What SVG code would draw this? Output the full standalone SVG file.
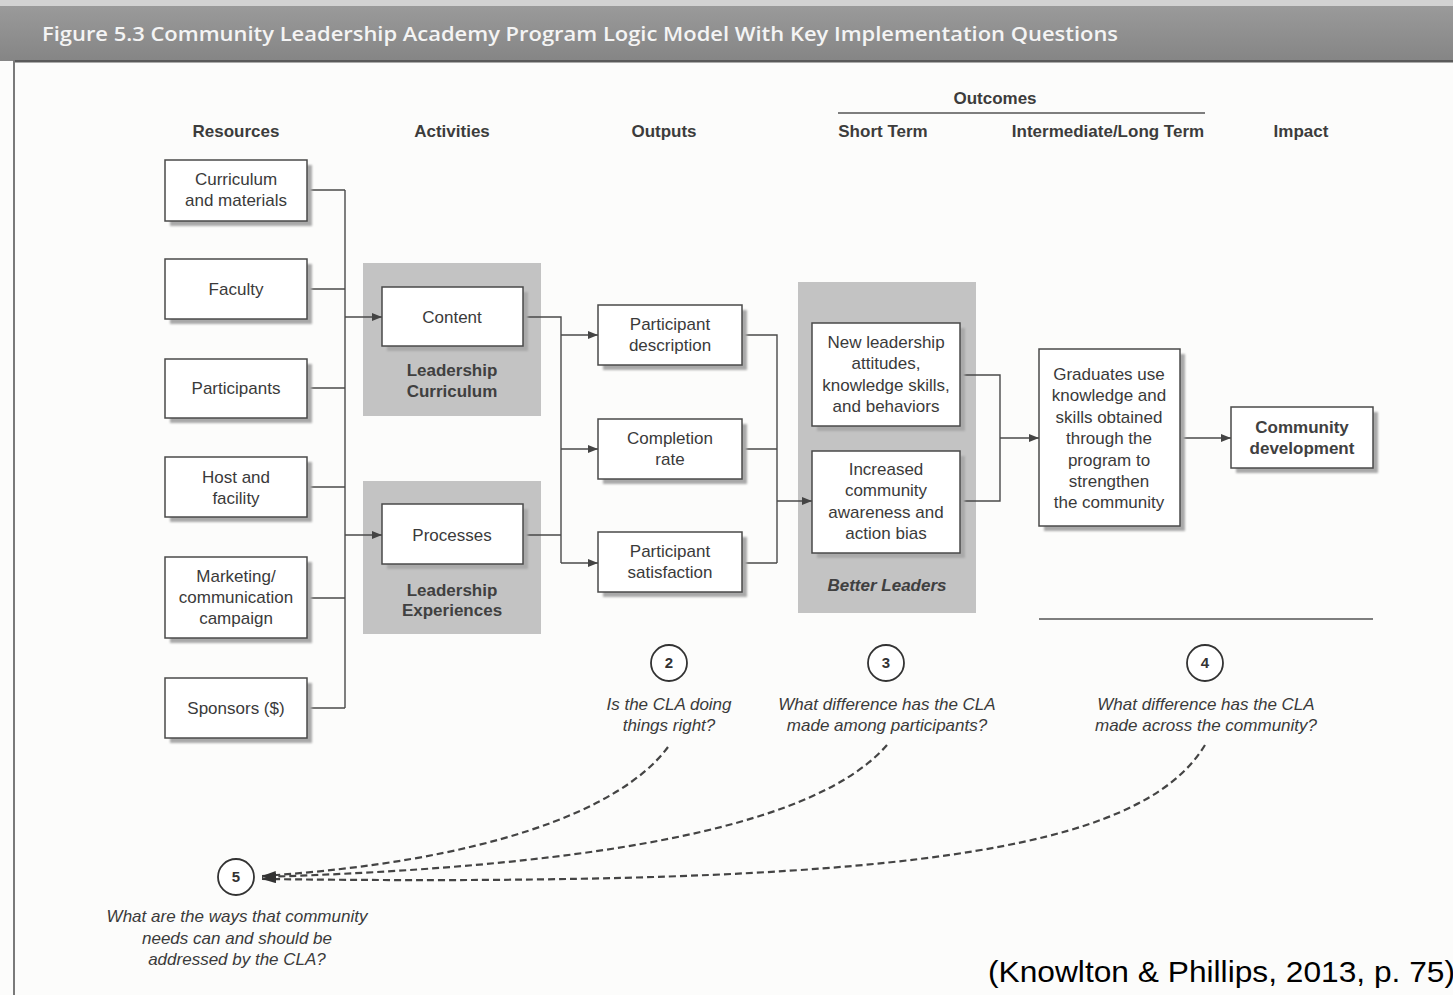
<svg xmlns="http://www.w3.org/2000/svg" width="1453" height="995" viewBox="0 0 1453 995">
  <style>
    .bg { fill: #fcfcfb; }
    .box { fill: #ffffff; stroke: #4a4a4a; stroke-width: 1.5; }
    .sh { fill: #a9a9a9; filter: url(#soft); }
    .panel { fill: #c3c3c3; }
    .t { font-family: "Liberation Sans", Arial, sans-serif; font-size: 17px; fill: #3a3a3a; text-anchor: middle; }
    .b { font-weight: bold; fill: #404040; }
    .hd { font-family: "Liberation Sans", Arial, sans-serif; font-size: 17px; font-weight: bold; fill: #3c3c3c; text-anchor: middle; }
    .q { font-family: "Liberation Sans", Arial, sans-serif; font-size: 17px; font-style: italic; fill: #3a3a3a; text-anchor: middle; }
    .num { font-family: "Liberation Sans", Arial, sans-serif; font-size: 15px; font-weight: bold; fill: #333; text-anchor: middle; }
    .ring { fill: #ffffff; stroke: #333; stroke-width: 1.8; }
    .wire { fill: none; stroke: #4a4a4a; stroke-width: 1.4; }
    .dash { fill: none; stroke: #444; stroke-width: 2.2; stroke-dasharray: 7 4; }
    .rule { stroke: #555; stroke-width: 1.4; }
  </style>
  <defs>
    <filter id="soft" x="-10%" y="-10%" width="120%" height="120%">
      <feGaussianBlur stdDeviation="1.2"/>
    </filter>
    <linearGradient id="bar" x1="0" y1="0" x2="0" y2="1">
      <stop offset="0" stop-color="#9a9a9a"/>
      <stop offset="1" stop-color="#858585"/>
    </linearGradient>
    <marker id="arr" viewBox="0 0 10 8" refX="10" refY="4" markerWidth="10" markerHeight="8" markerUnits="userSpaceOnUse" orient="auto">
      <path d="M0,0 L10,4 L0,8 Z" fill="#444"/>
    </marker>
    <marker id="arrL" viewBox="0 0 14 8" refX="14" refY="4" markerWidth="14" markerHeight="8" markerUnits="userSpaceOnUse" orient="auto">
      <path d="M0,0 L14,4 L0,8 Z" fill="#333"/>
    </marker>
  </defs>

  <!-- page -->
  <rect class="bg" x="0" y="0" width="1453" height="995"/>
  <rect x="0" y="0" width="1453" height="6" fill="#d2d2d2"/>
  <rect x="0" y="6" width="1453" height="55" fill="url(#bar)"/>
  <rect x="14" y="60" width="1439" height="2.5" fill="#5a5a5a"/>
  <rect x="13" y="60" width="2" height="935" fill="#7a7a7a"/>
  <text x="42" y="41" font-family="'Open Sans', 'Liberation Sans', sans-serif" font-size="20" font-weight="600" fill="#f4f4f4" textLength="1076" lengthAdjust="spacingAndGlyphs">Figure 5.3  Community Leadership Academy Program Logic Model With Key Implementation Questions</text>

  <!-- column headers -->
  <g id="headers">
    <text class="hd" x="236" y="137">Resources</text>
    <text class="hd" x="452" y="137">Activities</text>
    <text class="hd" x="664" y="137">Outputs</text>
    <text class="hd" x="995" y="104">Outcomes</text>
    <line class="rule" x1="838" y1="113" x2="1205" y2="113"/>
    <text class="hd" x="883" y="137">Short Term</text>
    <text class="hd" x="1108" y="137">Intermediate/Long Term</text>
    <text class="hd" x="1301" y="137">Impact</text>
  </g>

  <!-- gray grouping panels -->
  <g id="panel-curriculum">
    <rect class="panel" x="363" y="263" width="178" height="153"/>
    <text class="t b" x="452" y="376">Leadership</text>
    <text class="t b" x="452" y="397">Curriculum</text>
  </g>
  <g id="panel-experiences">
    <rect class="panel" x="363" y="481" width="178" height="153"/>
    <text class="t b" x="452" y="596">Leadership</text>
    <text class="t b" x="452" y="616">Experiences</text>
  </g>
  <g id="panel-better-leaders">
    <rect class="panel" x="798" y="282" width="178" height="331"/>
    <text class="t b" x="887" y="591" font-style="italic">Better Leaders</text>
  </g>

  <!-- connectors -->
  <g id="connectors">
    <!-- resources bus -->
    <path class="wire" d="M307,190 H345 M307,289 H345 M307,388 H345 M307,487 H345 M307,598 H345 M307,708 H345 M345,190 V708"/>
    <path class="wire" d="M345,317 H382" marker-end="url(#arr)"/>
    <path class="wire" d="M345,535 H382" marker-end="url(#arr)"/>
    <!-- activities bus -->
    <path class="wire" d="M523,317 H561 V563 M523,535 H561"/>
    <path class="wire" d="M561,335 H598" marker-end="url(#arr)"/>
    <path class="wire" d="M561,449 H598" marker-end="url(#arr)"/>
    <path class="wire" d="M561,563 H598" marker-end="url(#arr)"/>
    <!-- outputs bus -->
    <path class="wire" d="M742,335 H777 V563 M742,449 H777 M742,563 H777"/>
    <path class="wire" d="M777,501 H812" marker-end="url(#arr)"/>
    <!-- short term bus -->
    <path class="wire" d="M960,375 H1000 V501 H960"/>
    <path class="wire" d="M1000,438 H1039" marker-end="url(#arr)"/>
    <path class="wire" d="M1180,438 H1231" marker-end="url(#arr)"/>
    <!-- question links -->
    <path class="dash" d="M668,747 C620,812 480,862 262,876" marker-end="url(#arrL)"/>
    <path class="dash" d="M887,745 C820,822 620,866 262,877" marker-end="url(#arrL)"/>
    <path class="dash" d="M1205,745 C1140,852 900,887 262,879" marker-end="url(#arrL)"/>
  </g>

  <!-- resources -->
  <g id="res-curriculum">
    <rect class="sh" x="170" y="165" width="142" height="61"/>
    <rect class="box" x="165" y="160" width="142" height="61"/>
    <text class="t" x="236" y="185">Curriculum</text>
    <text class="t" x="236" y="206">and materials</text>
  </g>
  <g id="res-faculty">
    <rect class="sh" x="170" y="264" width="142" height="60"/>
    <rect class="box" x="165" y="259" width="142" height="60"/>
    <text class="t" x="236" y="295">Faculty</text>
  </g>
  <g id="res-participants">
    <rect class="sh" x="170" y="364" width="142" height="59"/>
    <rect class="box" x="165" y="359" width="142" height="59"/>
    <text class="t" x="236" y="394">Participants</text>
  </g>
  <g id="res-host">
    <rect class="sh" x="170" y="462" width="142" height="60"/>
    <rect class="box" x="165" y="457" width="142" height="60"/>
    <text class="t" x="236" y="483">Host and</text>
    <text class="t" x="236" y="504">facility</text>
  </g>
  <g id="res-marketing">
    <rect class="sh" x="170" y="562" width="142" height="81"/>
    <rect class="box" x="165" y="557" width="142" height="81"/>
    <text class="t" x="236" y="582">Marketing/</text>
    <text class="t" x="236" y="603">communication</text>
    <text class="t" x="236" y="624">campaign</text>
  </g>
  <g id="res-sponsors">
    <rect class="sh" x="170" y="683" width="142" height="60"/>
    <rect class="box" x="165" y="678" width="142" height="60"/>
    <text class="t" x="236" y="714">Sponsors ($)</text>
  </g>

  <!-- activities -->
  <g id="act-content">
    <rect class="sh" x="387" y="292" width="141" height="59"/>
    <rect class="box" x="382" y="287" width="141" height="59"/>
    <text class="t" x="452" y="323">Content</text>
  </g>
  <g id="act-processes">
    <rect class="sh" x="387" y="509" width="141" height="60"/>
    <rect class="box" x="382" y="504" width="141" height="60"/>
    <text class="t" x="452" y="541">Processes</text>
  </g>

  <!-- outputs -->
  <g id="out-description">
    <rect class="sh" x="603" y="310" width="144" height="60"/>
    <rect class="box" x="598" y="305" width="144" height="60"/>
    <text class="t" x="670" y="330">Participant</text>
    <text class="t" x="670" y="351">description</text>
  </g>
  <g id="out-completion">
    <rect class="sh" x="603" y="424" width="144" height="60"/>
    <rect class="box" x="598" y="419" width="144" height="60"/>
    <text class="t" x="670" y="444">Completion</text>
    <text class="t" x="670" y="465">rate</text>
  </g>
  <g id="out-satisfaction">
    <rect class="sh" x="603" y="537" width="144" height="60"/>
    <rect class="box" x="598" y="532" width="144" height="60"/>
    <text class="t" x="670" y="557">Participant</text>
    <text class="t" x="670" y="578">satisfaction</text>
  </g>

  <!-- short-term outcomes -->
  <g id="st-attitudes">
    <rect class="sh" x="817" y="328" width="148" height="103"/>
    <rect class="box" x="812" y="323" width="148" height="103"/>
    <text class="t" x="886" y="348">New leadership</text>
    <text class="t" x="886" y="369">attitudes,</text>
    <text class="t" x="886" y="391">knowledge skills,</text>
    <text class="t" x="886" y="412">and behaviors</text>
  </g>
  <g id="st-awareness">
    <rect class="sh" x="817" y="456" width="148" height="102"/>
    <rect class="box" x="812" y="451" width="148" height="102"/>
    <text class="t" x="886" y="475">Increased</text>
    <text class="t" x="886" y="496">community</text>
    <text class="t" x="886" y="518">awareness and</text>
    <text class="t" x="886" y="539">action bias</text>
  </g>

  <!-- intermediate / long term -->
  <g id="lt-graduates">
    <rect class="sh" x="1044" y="354" width="141" height="177"/>
    <rect class="box" x="1039" y="349" width="141" height="177"/>
    <text class="t" x="1109" y="380">Graduates use</text>
    <text class="t" x="1109" y="401">knowledge and</text>
    <text class="t" x="1109" y="423">skills obtained</text>
    <text class="t" x="1109" y="444">through the</text>
    <text class="t" x="1109" y="466">program to</text>
    <text class="t" x="1109" y="487">strengthen</text>
    <text class="t" x="1109" y="508">the community</text>
  </g>

  <!-- impact -->
  <g id="impact-community">
    <rect class="sh" x="1236" y="412" width="142" height="61"/>
    <rect class="box" x="1231" y="407" width="142" height="61"/>
    <text class="t b" x="1302" y="433">Community</text>
    <text class="t b" x="1302" y="454">development</text>
  </g>

  <line class="rule" x1="1039" y1="619" x2="1373" y2="619"/>

  <!-- key questions -->
  <g id="q2">
    <circle class="ring" cx="669" cy="663" r="18"/>
    <text class="num" x="669" y="668">2</text>
    <text class="q" x="669" y="710">Is the CLA doing</text>
    <text class="q" x="669" y="731">things right?</text>
  </g>
  <g id="q3">
    <circle class="ring" cx="886" cy="663" r="18"/>
    <text class="num" x="886" y="668">3</text>
    <text class="q" x="887" y="710">What difference has the CLA</text>
    <text class="q" x="887" y="731">made among participants?</text>
  </g>
  <g id="q4">
    <circle class="ring" cx="1205" cy="663" r="18"/>
    <text class="num" x="1205" y="668">4</text>
    <text class="q" x="1206" y="710">What difference has the CLA</text>
    <text class="q" x="1206" y="731">made across the community?</text>
  </g>
  <g id="q5">
    <circle class="ring" cx="236" cy="877" r="18"/>
    <text class="num" x="236" y="882">5</text>
    <text class="q" x="237" y="922">What are the ways that community</text>
    <text class="q" x="237" y="944">needs can and should be</text>
    <text class="q" x="237" y="965">addressed by the CLA?</text>
  </g>

  <text x="988" y="982" font-family="'Liberation Sans', Arial, sans-serif" font-size="30" fill="#000" textLength="467" lengthAdjust="spacingAndGlyphs">(Knowlton &amp; Phillips, 2013, p. 75)</text>
</svg>
